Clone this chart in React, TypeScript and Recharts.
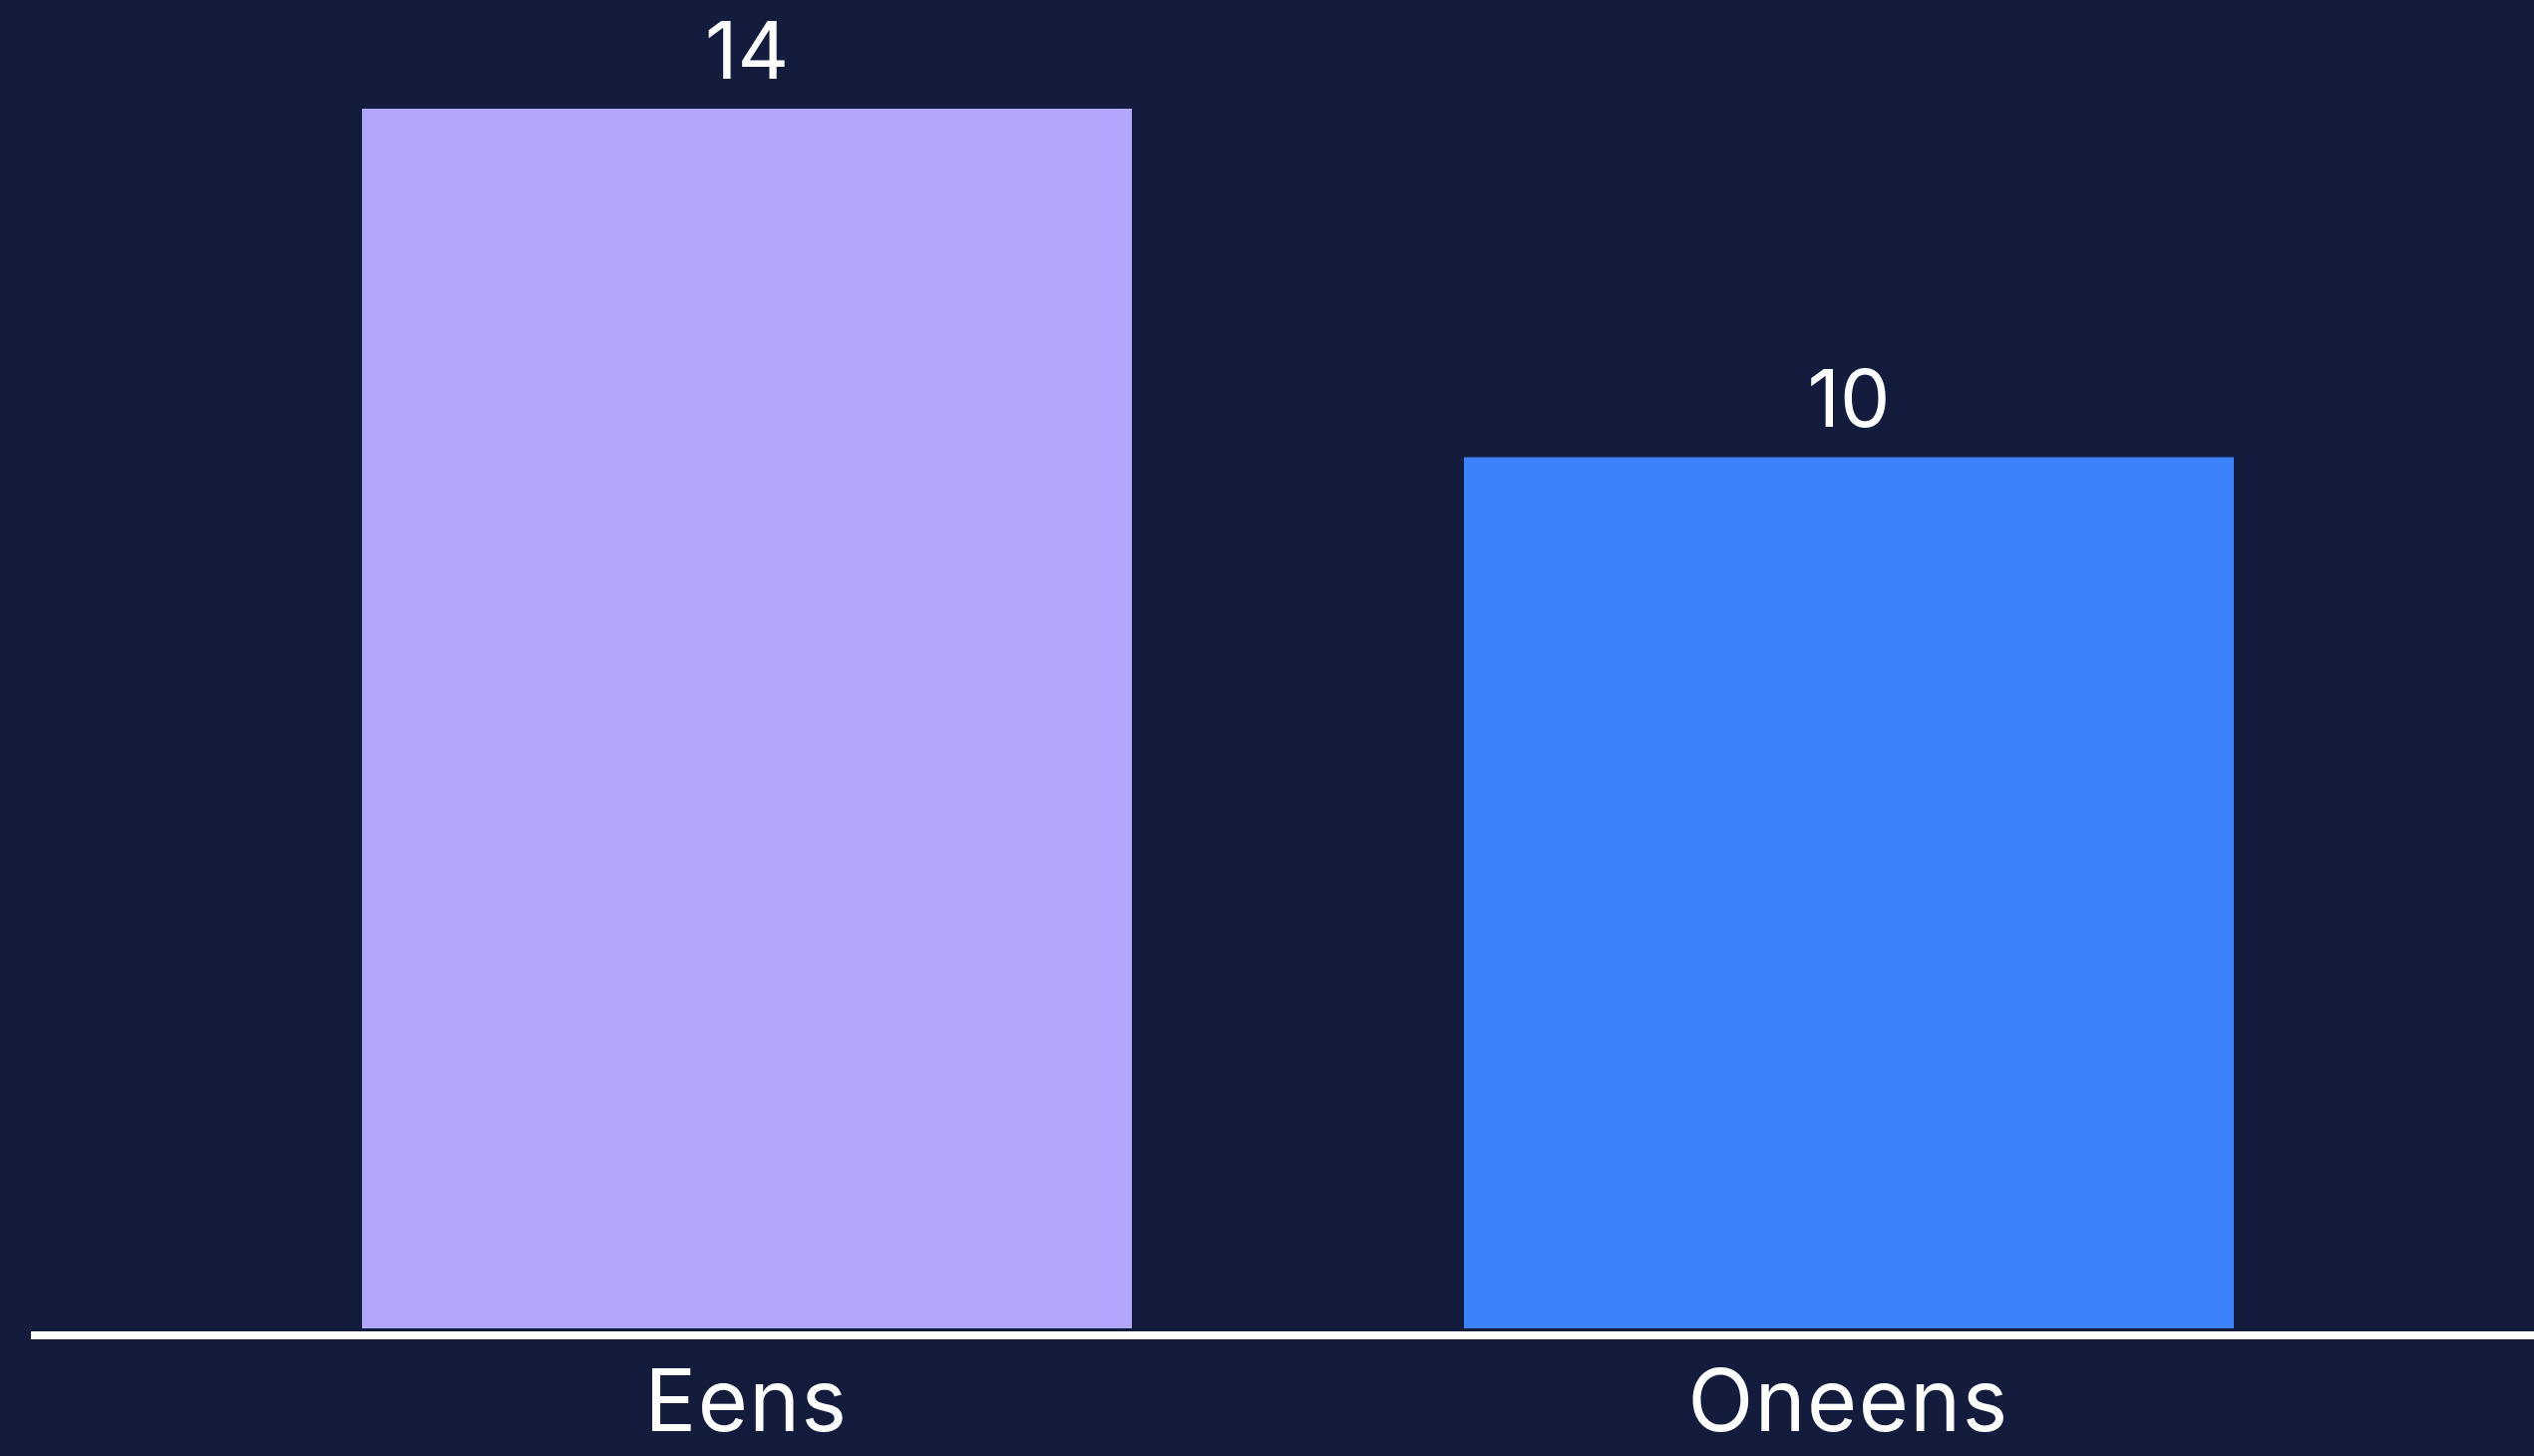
import { BarChart, Bar, XAxis, YAxis, Cell, LabelList } from "recharts";

const categories = ["Eens", "Oneens"];
const counts = [14, 10];
const barColors = ["#b3a6fd", "#3c82fd"];

const data = categories.map((name, i) => ({ name, value: counts[i] }));

export default function App() {
  return (
    <div
      style={{
        position: "absolute",
        left: 0,
        top: 0,
        width: 2541,
        height: 1460,
        background: "#131c3d",
        fontFamily: "Inter, 'Noto Sans', sans-serif",
      }}
    >
      <BarChart
        width={2541}
        height={1460}
        data={data}
        margin={{ top: 109, right: 0, bottom: 0, left: 31 }}
        barSize={772}
      >
        <XAxis
          dataKey="name"
          height={121}
          padding={{ left: 165, right: 135 }}
          tickLine={false}
          tickSize={0}
          tickMargin={35}
          axisLine={{ stroke: "#ffffff", strokeWidth: 8 }}
          tick={{ fill: "#ffffff", fontSize: 86, letterSpacing: 1.5 }}
        />
        <YAxis hide domain={[-0.08, 14]} />
        <Bar dataKey="value" isAnimationActive={false}>
          {data.map((d, i) => (
            <Cell key={d.name} fill={barColors[i]} />
          ))}
          <LabelList
            dataKey="value"
            position="top"
            offset={30}
            fill="#ffffff"
            fontSize={80}
          />
        </Bar>
      </BarChart>
    </div>
  );
}
